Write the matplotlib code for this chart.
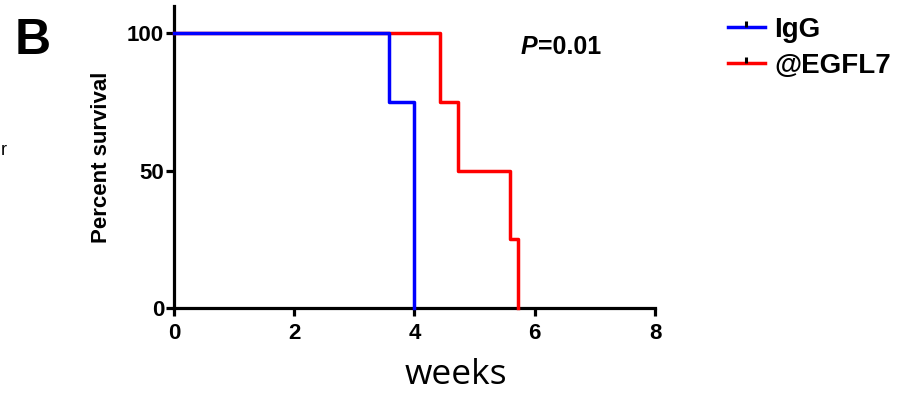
import matplotlib.pyplot as plt
from matplotlib.lines import Line2D

# survival curves (weeks, percent)
igg_weeks = [0, 3.58, 4.0]
igg_surv = [100, 75, 0]
egfl7_weeks = [0, 4.43, 4.72, 5.58, 5.72]
egfl7_surv = [100, 75, 50, 25, 0]

xticks = [0, 2, 4, 6, 8]
yticks = [0, 50, 100]
labels = ['IgG', '@EGFL7']

plt.rcParams['font.family'] = ['Liberation Sans', 'DejaVu Sans']
plt.rcParams['font.weight'] = 'bold'

fig = plt.figure(figsize=(9, 4), dpi=100)
ax = fig.add_axes([0.1933, 0.23, 0.5345, 0.755])

ax.step(egfl7_weeks, egfl7_surv, where='post', color='#ff0000', lw=2.5,
        clip_on=False, zorder=3)
ax.step(igg_weeks, igg_surv, where='post', color='#0000ff', lw=2.5,
        clip_on=False, zorder=4)

ax.set_xlim(0, 8)
ax.set_ylim(0, 110)
ax.set_xticks(xticks)
ax.set_yticks(yticks)
for s in ['top', 'right']:
    ax.spines[s].set_visible(False)
for s in ['left', 'bottom']:
    ax.spines[s].set_linewidth(2.3)
ax.tick_params(axis='both', width=2.3, length=6, labelsize=16)
ax.tick_params(axis='x', pad=5)
ax.tick_params(axis='y', pad=1)
for lab in ax.get_xticklabels() + ax.get_yticklabels():
    lab.set_fontweight('bold')

ax.set_ylabel('Percent survival', fontsize=16, fontweight='bold', labelpad=11)

fig.text(0.507, 0.04, 'weeks', fontsize=25.5, fontweight='normal',
         family=['Open Sans', 'DejaVu Sans'], ha='center', va='baseline')
fig.text(0.016, 0.865, 'B', fontsize=36, fontweight='bold', va='baseline')
fig.text(0.001, 0.6125, 'r', fontsize=13, fontweight='normal', va='baseline')

ptxt = fig.text(0.578, 0.865, 'P', fontsize=18, fontweight='bold',
                style='italic', va='baseline')
ax.annotate('=0.01', xy=(1, 0), xycoords=ptxt, xytext=(1, 0),
            textcoords='offset points', fontsize=18, fontweight='bold',
            va='bottom', annotation_clip=False)

handles = [
    Line2D([0, 0.5, 1], [0, 0, 0], color='#0000ff', lw=2.5, marker=2,
           markersize=4, markeredgecolor='k', markeredgewidth=2.2,
           markevery=[1]),
    Line2D([0, 0.5, 1], [0, 0, 0], color='#ff0000', lw=2.5, marker=2,
           markersize=4, markeredgecolor='k', markeredgewidth=2.2,
           markevery=[1]),
]
fig.legend(handles, labels, loc='upper left',
           bbox_to_anchor=(0.797, 0.985), frameon=False,
           prop=dict(size=20, weight='bold'), handlelength=1.3,
           handletextpad=0.35, labelspacing=0.35, borderaxespad=0)

fig.savefig('out.png', dpi=100)
